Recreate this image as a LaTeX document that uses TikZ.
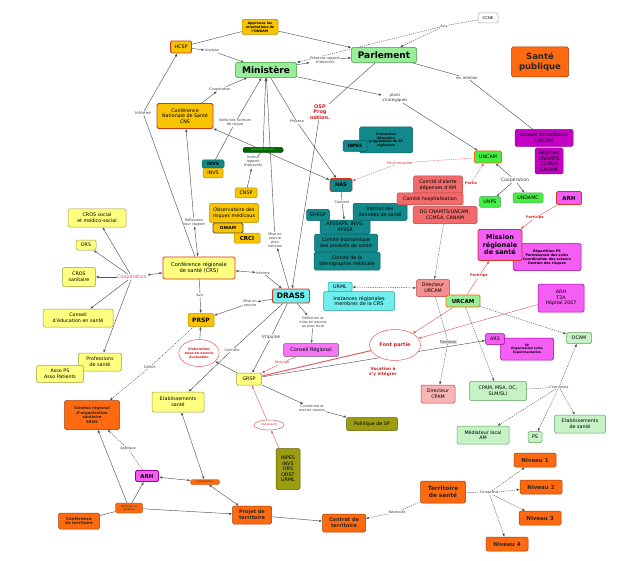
\documentclass[tikz,border=0pt]{standalone}
\usepackage{fontspec}
\setmainfont{DejaVu Sans}
\usetikzlibrary{arrows.meta,shapes.geometric}
\pgfdeclarelayer{bg}
\pgfsetlayers{bg,main}
\newcommand{\fsz}[2]{\fontsize{#1}{#2}\selectfont}
\definecolor{mingreen}{HTML}{99EE99}
\definecolor{mingreenb}{HTML}{3C9A3C}
\definecolor{gold}{HTML}{F8C400}
\definecolor{goldb}{HTML}{B88A00}
\definecolor{redb}{HTML}{D8341C}
\definecolor{tealf}{HTML}{11898A}
\definecolor{tealb}{HTML}{0B5F60}
\definecolor{salmon}{HTML}{F26B6B}
\definecolor{salmonb}{HTML}{B84040}
\definecolor{pinkl}{HTML}{F7B5B5}
\definecolor{magd}{HTML}{C400C4}
\definecolor{magf}{HTML}{F55EF5}
\definecolor{magb}{HTML}{9A009A}
\definecolor{grnb}{HTML}{44EE44}
\definecolor{grnl}{HTML}{C6F2C6}
\definecolor{grnlb}{HTML}{5EA05E}
\definecolor{yell}{HTML}{FFFF80}
\definecolor{yellb}{HTML}{9A9A40}
\definecolor{orng}{HTML}{FF6A10}
\definecolor{orngb}{HTML}{A03A00}
\definecolor{olive}{HTML}{9C9C10}
\definecolor{oliveb}{HTML}{5C5C00}
\definecolor{cyanl}{HTML}{70EEEE}
\definecolor{cyanb}{HTML}{30A0A0}
\definecolor{lnk}{HTML}{555555}
\definecolor{rlnk}{HTML}{E06060}
\definecolor{rtxt}{HTML}{D42020}
\definecolor{pinkc}{HTML}{E0508A}

\begin{document}
\begin{tikzpicture}[x=1pt,y=-1pt,>={Latex[length=3pt,width=2.4pt]},
  box/.style={draw,rounded corners=1.5pt,align=center,inner sep=0.6pt,line width=0.5pt,font=\fsz{4.8}{5.6}},
  sz/.style 2 args={minimum width=#1pt,minimum height=#2pt},
  greenbig/.style={box,fill=mingreen,draw=mingreenb,font=\bfseries\fsz{9}{10}},
  goldbox/.style={box,fill=gold,draw=goldb},
  goldred/.style={goldbox,draw=redb,line width=0.9pt},
  tealbox/.style={box,fill=tealf,draw=tealb},
  salbox/.style={box,fill=salmon,draw=salmonb},
  magbox/.style={box,fill=magd,draw=magb},
  magred/.style={box,fill=magf,draw=redb,line width=0.9pt},
  grnbox/.style={box,fill=grnb,draw=grnlb},
  lgbox/.style={box,fill=grnl,draw=grnlb},
  yelbox/.style={box,fill=yell,draw=yellb},
  orbox/.style={box,fill=orng,draw=orngb,text=black!85},
  olbox/.style={box,fill=olive,draw=oliveb},
  cybox/.style={box,fill=cyanl,draw=cyanb},
  lbl/.style={inner sep=0.4pt,align=center,fill=white,text=black!75,font=\fsz{3.5}{4}},
  rlbl/.style={lbl,text=rtxt,font=\bfseries\fsz{3.5}{4}},
  ell/.style={ellipse,draw=rlnk,fill=white,text=rtxt,inner sep=0pt,align=center,line width=0.5pt},
  ln/.style={draw=lnk,line width=0.45pt},
  dt/.style={ln,dash pattern=on 1.2pt off 1pt},
  rd/.style={draw=rlnk,line width=0.45pt},
  rdt/.style={rd,dash pattern=on 1.2pt off 1pt}]

% haut
\node[goldbox,sz={36}{15},font=\bfseries\fsz{3.3}{3.8}] (ondam) at (260,27) {Approuve les\\orientations de\\l'ONDAM};
\node[goldred,sz={21}{12}] (hcsp) at (181,47) {HCSP};
\node[lbl] (analyse) at (212,51) {Analyse};
\node[greenbig,sz={61}{15}] (min) at (266,70) {Ministère};
\node[greenbig,sz={65}{15}] (parl) at (384,55) {Parlement};
\node[box,fill=white,draw=gray!70,sz={20}{10},font=\fsz{3.8}{4.4}] (ccne) at (488,18) {CCNE};
\node[lbl] (avis1) at (444,26) {Avis};
\node[lbl] (presente) at (325,60) {Présente rapport\\d'objectifs};
\node[lbl,font=\fsz{4}{4.6}] (plans) at (395,98) {plans\\stratégiques};
\node[lbl,font=\fsz{4}{4.6}] (enrel) at (467,78) {en relation};
\node[orbox,sz={57}{30},font=\bfseries\fsz{8.5}{10}] (sante) at (540,62) {Santé\\publique};
\node[goldred,sz={56}{25}] (cns) at (185,116) {Conférence\\Nationale de Santé\\CNS};
\node[lbl] (coop1) at (220,89) {Coopération};
\node[lbl,font=\fsz{4}{4.6}] (informe1) at (143,113) {Informe};
\node[lbl] (veille) at (235,123) {Veille des facteurs\\de risque};
\node[lbl] (propose) at (297,122) {Propose};
\node[rlbl,font=\bfseries\fsz{5}{5.8}] (osp) at (320,112) {OSP\\Prog\\nation.};

% INVS, CNSP, observatoire
\node[goldbox,sz={20}{10}] (invsg) at (213,173) {INVS};
\node[tealbox,sz={22}{8},font=\bfseries\fsz{4.4}{5}] (invst) at (213,164) {INVS};
\node[box,fill=green!40!black,draw=green!30!black,sz={40}{5},text=green!70!white,font=\fsz{2.6}{3}] (avisbar) at (263,150) {Transmet son avis};
\node[lbl] (instit) at (253,162) {Institut\\rapport\\d'objectifs};
\node[goldbox,sz={22}{10}] (cnsp) at (246,193) {CNSP};
\node[goldbox,sz={49}{19}] (obs) at (234,213) {Observatoire des\\risques médicaux};
\node[goldbox,draw=black!70,line width=0.8pt,sz={30}{10},font=\bfseries\fsz{4.2}{5}] (oniam) at (228,228) {ONIAM};
\node[goldbox,sz={26}{10},font=\bfseries\fsz{5.5}{6}] (crci) at (247,238) {CRCI};

% HAS
\node[tealbox,sz={53}{26},font=\bfseries\fsz{3.2}{3.7}] (prev) at (386,140) {Prévention\\éducation\\programmes de SP\\régionaux};
\node[tealbox,sz={24}{11},font=\bfseries\fsz{4.4}{5}] (inpes1) at (355,146) {INPES};
\node[tealbox,draw=redb,line width=0.9pt,sz={22}{13},font=\bfseries\fsz{5}{6}] (has) at (341,185) {HAS};
\node[lbl] (contient) at (342,202) {Contient};
\node[tealbox,sz={23}{11}] (ehesp) at (318,215) {EHESP};
\node[tealbox,sz={54}{17}] (ids) at (380,212) {Institut des\\données de santé};
\node[tealbox,sz={50}{14}] (afssa) at (345,227) {AFSSAPS, INVS,\\AFSSA};
\node[tealbox,sz={63}{18}] (cepro) at (346,243) {Comité économique\\des produits de santé};
\node[tealbox,sz={66}{18}] (cdemo) at (347,261) {Comité de la\\démographie médicale};

% UNCAM
\node[grnbox,draw=orange!80!red,line width=0.9pt,sz={27}{12}] (uncam) at (488,157) {UNCAM};
\node[magbox,sz={28}{26}] (regimes) at (549,161) {Régimes\\CNAMTS\\CCMSA\\CANAM};
\node[magbox,sz={58}{17}] (csurv) at (544,138) {Conseil surveillance\\UNCAM};
\node[rlbl,font=\fsz{3.5}{4}] (peut) at (400,163) {Peut consulter};
\node[salbox,sz={49}{18}] (calerte) at (438,185) {Comité d'alerte\\dépenses d'AM};
\node[salbox,sz={66}{12}] (chosp) at (430,199) {Comité hospitalisation};
\node[salbox,sz={64}{17}] (dgc) at (445,215) {DG CNAMTS/UNCAM,\\CCMSA, CANAM};
\node[rlbl] (partie) at (471,183) {Partie};
\node[lbl,font=\fsz{4.6}{5}] (coop2) at (515,180) {Coopération};
\node[grnbox,sz={21}{11}] (unps) at (490,202) {UNPS};
\node[grnbox,sz={30}{10}] (undamc) at (528,198) {UNDAMC};
\node[magred,sz={25}{13},font=\bfseries\fsz{5.5}{6}] (arha) at (569,198) {ARH};
\node[rlbl] (partic1) at (535,218) {Participe};
\node[magbox,fill=magf,sz={68}{27},font=\bfseries\fsz{3.4}{4}] (repart) at (547,257) {Répartition PS\\Permanence des soins\\Coordination des acteurs\\Gestion des risques};
\node[magred,sz={44}{31},font=\bfseries\fsz{6.5}{7.5}] (mrs) at (500,245) {Mission\\régionale\\de santé};
\node[salbox,fill=salmon!75,sz={33}{17}] (durcam) at (433,288) {Directeur\\URCAM};
\node[box,fill=mingreen,draw=orange!80!red,line width=0.9pt,sz={34}{12},font=\bfseries\fsz{5.5}{6}] (urcam) at (463,301) {URCAM};
\node[rlbl] (partic2) at (479,276) {Participe};
\node[magbox,fill=magf,sz={46}{28}] (arht) at (561,298) {ARH\\T2A\\Hôpital 2007};
\node[lgbox,sz={25}{11}] (ocam) at (579,338) {OCAM};
\node[magbox,fill=magf,sz={53}{22},font=\bfseries\fsz{3}{3.5}] (sporg) at (527,349) {SP\\Organisation soins\\Expérimentation};
\node[magbox,fill=magf,sz={19}{11}] (ars) at (495,339) {ARS};
\node[lbl,fill=gray!25] (transm) at (448,342) {Transmet};
\node[salbox,fill=pinkl,sz={34}{18}] (dcpam) at (438,394) {Directeur\\CPAM};
\node[lgbox,sz={57}{19}] (cpam) at (498,391) {CPAM, MSA, OC,\\SLM/SLI};
\node[lbl] (coordonne) at (559,387) {Coordonne};
\node[lgbox,sz={52}{18}] (mediat) at (483,435) {Médiateur local\\AM};
\node[lgbox,sz={14}{11}] (ps) at (535,437) {PS};
\node[lgbox,sz={51}{18}] (etabb) at (580,424) {Etablissements\\de santé};

% DRASS
\node[cybox,draw=redb,line width=0.9pt,sz={37}{14},font=\bfseries\fsz{7.5}{8}] (drass) at (291,296) {DRASS};
\node[lbl] (miseplan) at (275,240) {Mise en\\oeuvre\\plan\\national};
\node[lbl] (informe2) at (263,273) {Informe};
\node[cybox,sz={24}{10}] (urml) at (340,287) {URML};
\node[cybox,sz={71}{19},font=\fsz{5}{5.8}] (instances) at (359,301) {Instances régionales\\membres de la CRS};
\node[ell,minimum width=51pt,minimum height=31pt,font=\bfseries\fsz{5}{6}] (fontp) at (395,345) {Font partie};
\node[rlbl,font=\bfseries\fsz{4.2}{5}] (vocation) at (383,372) {Vocation à\\s'y intégrer};
\node[magbox,fill=magf!85,draw=black!60,sz={55}{13},font=\fsz{5}{6}] (creg) at (311,350) {Conseil Régional};
\node[rlbl,font=\fsz{3.3}{4}] (partic3) at (282,363) {Participe};
\node[lbl] (defin) at (313,322) {Définition et\\mise en oeuvre\\au plan local};
\node[lbl] (mise1) at (250,303) {Mise en\\oeuvre};
\node[lbl,font=\fsz{4.6}{5}] (impulse) at (271,337) {Impulse};
\node[lbl] (controle) at (232,350) {Contrôle};
\node[yelbox,sz={25}{12}] (grsp) at (249,379) {GRSP};
\node[goldbox,sz={26}{13},font=\bfseries\fsz{6}{7}] (prsp) at (201,320) {PRSP};
\node[ell,minimum width=37pt,minimum height=27pt,font=\bfseries\fsz{3.3}{3.9}] (elab) at (199,353) {Elaboration\\mise en oeuvre\\évaluation};
\node[yelbox,sz={52}{20}] (etaba) at (178,402) {Etablissements\\santé};
\node[ell,minimum width=30pt,minimum height=10pt,font=\fsz{2.8}{3}] (composent) at (269,425) {Composent};
\node[olbox,sz={24}{41}] (inpes2) at (288,469) {INPES\\INVS\\ORS\\ORST\\URML};
\node[lbl] (coordmet) at (312,408) {Coordonne et\\met en oeuvre};
\node[olbox,sz={51}{13}] (polsp) at (372,424) {Politique de SP};

% gauche
\node[yelbox,sz={58}{18}] (crossoc) at (97,218) {CROS social\\et médico-social};
\node[yelbox,sz={20}{10}] (ors) at (86,245) {ORS};
\node[yelbox,sz={33}{19}] (crossan) at (79,277) {CROS\\sanitaire};
\node[yelbox,sz={70}{18}] (ceduc) at (78,318) {Conseil\\d'éducation en santé};
\node[yelbox,sz={43}{18}] (profs) at (100,362) {Professions\\de santé};
\node[yelbox,sz={47}{17}] (asso) at (60,374) {Asso PS\\Asso Patients};
\node[lbl,text=pinkc,font=\fsz{4.8}{5.4}] (coop3) at (132,277) {Coopération};
\node[yelbox,draw=redb,line width=0.9pt,sz={72}{22},font=\fsz{5.2}{6}] (crs) at (199,268) {Conférence régionale\\de santé (CRS)};
\node[lbl] (reflex) at (194,222) {Réflexions\\pour rapport};
\node[lbl] (avis2) at (200,295) {Avis};
\node[lbl] (definit) at (150,367) {Définit};

% bas
\node[orbox,sz={55}{29},font=\bfseries\fsz{3.8}{4.4}] (sros) at (92,415) {Schéma régional\\d'organisation\\sanitaire\\SROS};
\node[lbl] (applique) at (128,449) {Applique};
\node[magred,draw=magb,sz={23}{11},font=\bfseries\fsz{5.5}{6}] (arhb) at (147,476) {ARH};
\node[orbox,sz={29}{5},line width=0.3pt,font=\fsz{2.5}{3}] (concert) at (205,482) {Concertation};
\node[orbox,sz={27}{10},line width=0.3pt,font=\fsz{2.8}{3.2}] (partprop) at (129,508) {Participe et\\propose};
\node[orbox,sz={41}{16},font=\bfseries\fsz{4}{4.8}] (cterr) at (79,521) {Conférence\\de territoire};
\node[orbox,sz={39}{18},font=\bfseries\fsz{5}{5.8}] (proj) at (252,515) {Projet de\\territoire};
\node[orbox,sz={43}{18},font=\bfseries\fsz{5}{5.8}] (contrat) at (344,523) {Contrat de\\territoire};
\node[orbox,sz={45}{22},font=\bfseries\fsz{5.8}{6.6}] (terr) at (443,492) {Territoire\\de santé};
\node[lbl] (necess) at (397,512) {Nécessite};
\node[lbl] (comprend) at (489,493) {Comprend};
\node[orbox,sz={42}{14},font=\bfseries\fsz{5.5}{6}] (niv1) at (535,460) {Niveau 1};
\node[orbox,sz={42}{14},font=\bfseries\fsz{5.5}{6}] (niv2) at (541,487) {Niveau 2};
\node[orbox,sz={42}{14},font=\bfseries\fsz{5.5}{6}] (niv3) at (540,518) {Niveau 3};
\node[orbox,sz={42}{14},font=\bfseries\fsz{5.5}{6}] (niv4) at (507,544) {Niveau 4};

\begin{pgfonlayer}{bg}
\fill[white] (0,0) rectangle (620,561);
\draw[ln] (hcsp) -- (ondam) edge[->] (parl);
\draw[ln,->] (hcsp) -- (analyse);
\draw[ln,->] (analyse) -- (min);
\draw[ln,->] (cns) -- (coop1);
\draw[ln,->] (coop1) -- (min);
\draw[ln] (crs) -- (informe1) edge[->] (hcsp);
\draw[ln] (invst) -- (veille) edge[->] (min);
\draw[ln] (min) -- (propose) edge[->] (has);
\draw[ln] (parl) -- (osp) edge[->] (drass);
\draw[dt] (ccne) -- (avis1) edge[->] (parl) edge[->] (min);
\draw[ln,->] (min) -- (presente);
\draw[ln,->] (presente) -- (parl);
\draw[ln,->] (min) -- (plans);
\draw[ln,->] (plans) -- (uncam);
\draw[ln] (parl) -- (enrel) -- (csurv);
\draw[rdt] (uncam) -- (peut) edge[->] (has);
\draw[ln,<->] (cns) -- (has);
\draw[ln] (has) -- (contient) edge[->] (afssa);
\draw[rdt,->] (partie) -- (uncam);
\draw[rdt,->] (partie) -- (chosp);
\draw[ln,->] (coop2) -- (uncam);
\draw[ln,->] (coop2) -- (unps);
\draw[ln,->] (coop2) -- (undamc);
\draw[rd] (arha) -- (partic1) edge[->] (mrs);
\draw[rd] (urcam) -- (partic2) edge[->] (mrs);
\draw[dt,->] (dgc) -- (durcam);
\draw[dt,<->] (urml) -- (durcam);
\draw[dt] (durcam) -- (transm) edge[->] (dcpam);
\draw[dt,->] (urcam) -- (cpam);
\draw[dt,->] (urcam) -- (ocam);
\draw[dt] (cpam) -- (coordonne) edge[->] (mediat) edge[->] (ps) edge[->] (etabb) edge[->] (ocam);
\draw[rd,->] (urcam) -- (fontp);
\draw[rd,->] (arht) -- (fontp);
\draw[rd,->,line width=1pt] (fontp) -- (grsp);
\draw[rd] (creg) -- (partic3) edge[->] (grsp);
\draw[ln,->] (drass) -- (mise1);
\draw[ln,->] (mise1) -- (prsp);
\draw[ln,->] (drass) -- (defin);
\draw[ln,->] (defin) -- (creg);
\draw[ln] (drass) -- (impulse) edge[->] (grsp);
\draw[ln] (drass) -- (controle) edge[->] (etaba);
\draw[ln,->] (grsp) -- (elab);
\draw[ln,->] (elab) -- (prsp);
\draw[rd,->] (inpes2) -- (composent);
\draw[rd,->] (composent) -- (grsp);
\draw[ln,->] (grsp) -- (coordmet);
\draw[ln,->] (coordmet) -- (polsp);
\draw[ln,->] (grsp) -- (ars);
\draw[ln,->] (coop3) -- (crossoc);
\draw[ln,->] (coop3) -- (ors);
\draw[ln,->] (coop3) -- (crossan);
\draw[ln,->] (coop3) -- (ceduc);
\draw[ln,->] (coop3) -- (profs);
\draw[ln,<->] (coop3) -- (crs);
\draw[ln,->] (reflex) -- (cns);
\draw[ln,<->] (reflex) -- (crs);
\draw[ln] (crs) -- (avis2) edge[->] (prsp);
\draw[dt] (prsp) -- (definit) edge[->] (sros);
\draw[ln,->] (cnsp) -- (instit);
\draw[ln] (instit) -- (avisbar) edge[->] (min);
\draw[ln,->] (drass) -- (miseplan);
\draw[ln,->] (miseplan) -- (min);
\draw[ln,<->] (crs) -- (informe2);
\draw[ln,->] (informe2) -- (drass);
\draw[ln,<->] (etaba) -- (concert);
\draw[ln,<->] (arhb) -- (concert);
\draw[ln,<->] (concert) -- (proj);
\draw[dt] (arhb) -- (applique) edge[->] (sros);
\draw[ln] (cterr) -- (partprop) edge[->] (sros) edge[->] (arhb) edge[->] (proj);
\draw[ln,->] (proj) -- (contrat);
\draw[dt] (terr) -- (necess) edge[->] (contrat);
\draw[dt] (terr) -- (comprend) edge[->] (niv1) edge[->] (niv2) edge[->] (niv3) edge[->] (niv4);
\end{pgfonlayer}
\useasboundingbox (0,0) rectangle (620,561);
\end{tikzpicture}
\end{document}
